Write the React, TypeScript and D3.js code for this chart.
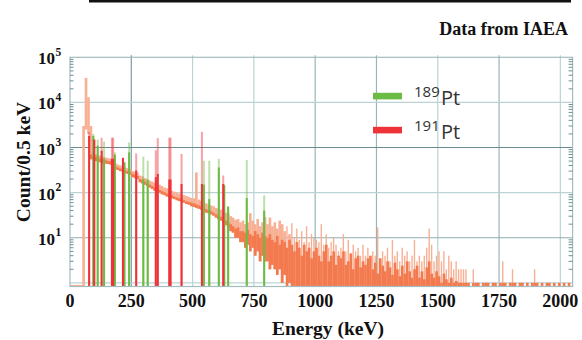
import React from 'react';
import * as d3 from 'd3';

// gamma spectrum, 10 keV bins starting at 0 keV (counts / 0.5 keV)
const binKeV = 10;
// lower edge of the noise band (bins past the end sit on the floor)
const specLo = [
  0, 0, 0, 0, 0, 0, 2500, 2000, 550, 520,
  500, 480, 470, 450, 440, 430, 420, 400, 330, 320,
  300, 290, 270, 260, 250, 220, 210, 200, 170, 160,
  150, 140, 130, 120, 110, 105, 100, 92, 88, 82,
  78, 75, 72, 68, 65, 62, 60, 56, 54, 50,
  48, 46, 44, 42, 40, 36, 35, 33, 31, 28,
  26, 24, 21, 19, 17, 14, 13, 10, 10, 8,
  8, 6, 7, 5, 6, 4, 5, 3, 4, 3,
  3, 2, 2.5, 2, 1.5, 2, 1, 1.5, 0, 1,
];
// top of the dense (dark) part of the band
const specCore = [
  0, 0, 0, 0, 0, 0, 0, 0, 700, 640,
  620, 600, 560, 540, 520, 500, 500, 480, 380, 360,
  340, 330, 310, 300, 290, 260, 245, 235, 200, 190,
  175, 160, 150, 140, 130, 125, 115, 108, 102, 96,
  90, 86, 82, 78, 75, 72, 68, 64, 62, 60,
  58, 55, 52, 50, 47, 43, 41, 39, 36, 33,
  31, 29, 26, 24, 22, 20, 18, 16, 17, 14,
  14, 13, 15, 12, 11, 14, 12, 10, 13, 11,
  10, 12, 9, 8, 11, 7, 9, 8, 6, 9,
  7, 5, 8, 6, 4, 7, 5, 6, 3.5, 5,
  6, 4, 3, 5, 7, 3, 4, 5, 2.5, 4,
  3.5, 5, 2.5, 3, 4.5, 2, 3.5, 4, 2.2, 3,
  2.5, 3.5, 4, 2, 2.8, 1.6, 3.5, 2.4, 1.8, 3,
  2.2, 1.5, 2.8, 2, 1.4, 2.4, 1.6, 3, 1.8, 1.3,
  2, 2.4, 1.3, 1.8, 1.2, 2.2, 3, 1.6, 1.3, 1.8,
  1.4, 1, 1.6, 1.2, 1, 1.3, 1, 1.1, 1, 1,
  1, 1, 1, 0, 1, 1, 1, 0, 1, 1,
  1, 0, 1, 1, 0, 1, 1, 1, 0, 1,
  1, 1, 0, 1, 1, 0, 1, 0, 1, 1,
  1, 0, 1, 0, 1, 1, 0, 1, 0, 1,
  0, 1, 0, 1, 0,
];
// highest spike in each bin
const specHi = [
  0.9, 0.9, 0.9, 0.9, 0.9, 3000, 35000, 13000, 3000, 800,
  700, 680, 650, 620, 600, 580, 570, 560, 450, 420,
  400, 390, 360, 350, 340, 300, 290, 280, 240, 230,
  210, 200, 185, 175, 165, 160, 150, 140, 130, 125,
  118, 110, 105, 100, 95, 92, 88, 84, 80, 76,
  75, 280, 70, 66, 62, 58, 55, 52, 50, 46,
  44, 42, 38, 36, 34, 30, 28, 25, 26, 22,
  24, 20, 22, 35, 24, 20, 26, 18, 22, 29,
  20, 28, 18, 22, 16, 24, 20, 14, 18, 12,
  21, 10, 16, 9, 14, 8, 18, 8, 12, 10,
  9, 8, 20, 7, 12, 6, 8, 10, 7, 5,
  6, 12, 5, 9, 4, 7, 5, 6, 4, 7,
  4, 6, 3, 5, 4, 17, 3, 5, 4, 6,
  3, 9, 4, 5, 3, 6, 4, 5, 3, 4,
  9, 3, 4, 3, 4, 6, 16, 7, 3, 4,
  5, 3, 5, 2, 4, 3, 2, 3, 2, 2,
  2, 2, 1, 0, 2, 1, 1, 0, 1, 1,
  1, 0, 1, 1, 0, 1, 3, 1, 0, 1,
  2, 1, 0, 1, 1, 0, 1, 0, 1, 2,
  1, 0, 1, 0, 1, 1, 0, 1, 0, 1,
  0, 1, 0, 1, 0,
];

// reference lines: energy (keV), full height, dense part
const pt191E = [78, 99, 129, 171, 176, 216, 270, 350, 358, 405, 410, 455, 538, 625];
const pt191Top = [2200, 1500, 1650, 1650, 1650, 590, 740, 870, 1620, 1650, 1650, 720, 2230, 240];
const pt191Solid = [1800, 1500, 850, 560, 560, 590, 310, 220, 260, 195, 195, 155, 155, 155];

const pt189E = [95, 113, 139, 183, 222, 241, 299, 317, 546, 568, 607, 629, 645, 721, 792];
const pt189Top = [2000, 1500, 1350, 780, 470, 1300, 630, 510, 510, 510, 560, 150, 49, 530, 87];
const pt189Solid = [1800, 1100, 560, 700, 470, 780, 200, 190, 150, 72, 360, 145, 49, 76, 40];

const xTicks = [0, 250, 500, 750, 1000, 1250, 1500, 1750, 2000];
const yTicks = [10, 100, 1000, 10000, 100000];
const yExp = ['1', '2', '3', '4', '5'];
const legendNames = ['189', '191'];

const serif = '"Liberation Serif", "Times New Roman", serif';
const sans = '"Open Sans", "Noto Sans", sans-serif';

const GREEN = '#6cbb44';
const RED = '#ee3338';
const ORANGE = '#f37a4e';
const ORANGE_LIGHT = '#f8b095';

const App: React.FC = () => {
  const left = 70;
  const right = 572.6;
  const top = 57.3;
  const bottom = 286.5;

  const x = d3.scaleLinear().domain([0, 2050]).range([left, right]);
  const y = d3.scaleLog().domain([0.83, 1e5]).range([bottom, top]);
  const yc = (v: number) => (v <= 0.83 ? bottom : y(v));
  const bw = x(binKeV) - x(0);

  const gridDarkX = new Set([250]);
  const gridMidX = new Set([1000, 1250, 1750]);
  const gridColorX = (t: number) =>
    gridDarkX.has(t) ? '#7d9ca0' : gridMidX.has(t) ? '#9ab5b8' : '#bcd3d5';
  const gridColorY = (v: number) =>
    v === 1000 ? '#6a8b8f' : v === 10 ? '#90adb0' : '#bcd3d5';

  const minor: number[] = [];
  [1, 10, 100, 1000, 10000].forEach((d) => {
    [2, 3, 4, 5, 6, 7, 8, 9].forEach((m) => minor.push(m * d));
  });

  const lines = (
    es: number[],
    tops: number[],
    solids: number[],
    color: string,
    key: string
  ) =>
    es.map((e, i) => (
      <g key={`${key}${i}`}>
        <rect
          x={x(e) - 1}
          y={yc(tops[i])}
          width={2}
          height={bottom - yc(tops[i])}
          fill={color}
          fillOpacity={0.45}
        />
        <rect
          x={x(e) - 1}
          y={yc(solids[i])}
          width={2}
          height={bottom - yc(solids[i])}
          fill={color}
        />
      </g>
    ));

  return (
    <svg
      width={582}
      height={340}
      style={{ position: 'absolute', left: 0, top: 0, background: '#fff' }}
    >
      {/* top rule and source note */}
      <rect x={89} y={0} width={482} height={2.5} fill="#111" />
      <text x={568} y={35} textAnchor="end" fontFamily={serif} fontWeight="bold" fontSize={18} fill="#111">
        Data from IAEA
      </text>

      {/* grid */}
      {xTicks
        .filter((t) => t > 0)
        .map((t) => (
          <line key={`gx${t}`} x1={x(t)} x2={x(t)} y1={top - 2} y2={bottom} stroke={gridColorX(t)} strokeWidth={1.2} />
        ))}
      {[1, ...yTicks.slice(0, 4)].map((v) => (
        <line key={`gy${v}`} x1={left} x2={right} y1={y(v)} y2={y(v)} stroke={gridColorY(v)} strokeWidth={1.2} />
      ))}

      {/* spectrum: light spikes, then the dense band */}
      {specHi.map((h, i) => {
        const lo = specLo[i] ?? 0;
        if (h <= 0) return null;
        const band = lo > 0 || i < 10;
        const w = band ? bw + 0.2 : 1.4;
        const x0 = band ? x(i * binKeV) : x(i * binKeV) + (bw - w) / 2;
        return (
          <rect
            key={`sh${i}`}
            x={x0}
            y={yc(h)}
            width={w}
            height={Math.max(1.2, yc(lo) - yc(h))}
            fill={ORANGE_LIGHT}
          />
        );
      })}
      {specCore.map((c, i) => {
        const lo = specLo[i] ?? 0;
        if (c <= lo || c <= 0) return null;
        return (
          <rect
            key={`sc${i}`}
            x={x(i * binKeV)}
            y={yc(c)}
            width={bw + 0.2}
            height={Math.max(1.2, yc(lo) - yc(c))}
            fill={ORANGE}
          />
        );
      })}

      {/* isotope lines */}
      {lines(pt189E, pt189Top, pt189Solid, GREEN, 'g')}
      {lines(pt191E, pt191Top, pt191Solid, RED, 'r')}

      {/* frame */}
      <rect x={left} y={top} width={right - left} height={bottom - top} fill="none" stroke="#a3bcbf" strokeWidth={1.2} />
      {minor.map((v) => (
        <g key={`m${v}`}>
          <line x1={left} x2={left + 3.5} y1={y(v)} y2={y(v)} stroke="#6b8f93" strokeWidth={1} />
          <line x1={right - 4} x2={right} y1={y(v)} y2={y(v)} stroke="#6b8f93" strokeWidth={1} />
        </g>
      ))}

      {/* axes labels */}
      {xTicks.map((t) => (
        <text key={`xt${t}`} x={x(t)} y={306.5} textAnchor="middle" fontFamily={serif} fontWeight="bold" fontSize={18} fill="#111">
          {t}
        </text>
      ))}
      {yTicks.map((v, i) => (
        <g key={`yt${v}`}>
          <text x={55} y={y(v) + 7} textAnchor="end" fontFamily={serif} fontWeight="bold" fontSize={17} fill="#111">
            10
          </text>
          <text x={55.5} y={y(v) - 1.5} fontFamily={serif} fontWeight="bold" fontSize={11.5} fill="#111">
            {yExp[i]}
          </text>
        </g>
      ))}
      <text x={328} y={335} textAnchor="middle" fontFamily={serif} fontWeight="bold" fontSize={19.5} fill="#111">
        Energy (keV)
      </text>
      <text
        transform="translate(30,162) rotate(-90)"
        textAnchor="middle"
        fontFamily={serif}
        fontWeight="bold"
        fontSize={19.5}
        fill="#111"
      >
        Count/0.5 keV
      </text>

      {/* legend */}
      {legendNames.map((n, i) => (
        <g key={`lg${n}`}>
          <rect x={373} y={92.8 + i * 34} width={29} height={6.6} fill={i === 0 ? GREEN : RED} />
          <text x={414} y={96.7 + i * 34} fontFamily={sans} fontSize={15} fill="#333">
            {n}
          </text>
          <text x={441} y={105 + i * 34} fontFamily={sans} fontSize={20} fill="#333">
            Pt
          </text>
        </g>
      ))}
    </svg>
  );
};

export default App;
